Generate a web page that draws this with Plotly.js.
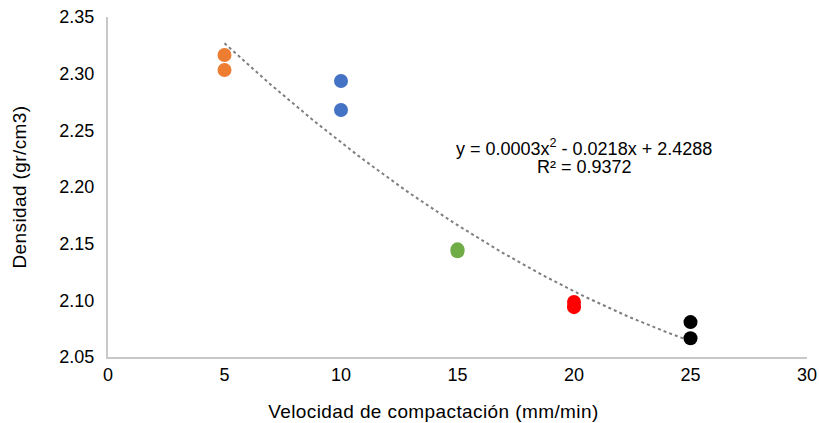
<!DOCTYPE html>
<html>
<head>
<meta charset="utf-8">
<script src="https://cdn.plot.ly/plotly-3.0.1.min.js"></script>
<style>html,body{margin:0;padding:0;background:#fff;}#chart{width:819px;height:423px;}
.g-ytitle text,.annotation.xtitle-ann text{letter-spacing:0.4px;}</style>
</head>
<body>
<div id="chart"></div>
<script>
// Data
var xOrange = [5, 5];
var yOrange = [2.3165, 2.3032];
var xBlue = [10, 10];
var yBlue = [2.2935, 2.2679];
var xGreen = [15, 15];
var yGreen = [2.1450, 2.1432];
var xRed = [20, 20];
var yRed = [2.0985, 2.0940];
var xBlack = [25, 25];
var yBlack = [2.0808, 2.0665];
var equationLine = "y = 0.0003x<sup>2</sup> - 0.0218x + 2.4288";
var r2Line = "R² = 0.9372";
var xTitle = "Velocidad de compactación (mm/min)";
var yTitle = "Densidad (gr/cm3)";

// Quadratic least-squares trendline from the data
var allX = [].concat(xOrange, xBlue, xGreen, xRed, xBlack);
var allY = [].concat(yOrange, yBlue, yGreen, yRed, yBlack);
function fitQuad(xs, ys) {
  var S = [0,0,0,0,0], T = [0,0,0];
  for (var i = 0; i < xs.length; i++) {
    var p = 1;
    for (var k = 0; k < 5; k++) { S[k] += p; if (k < 3) T[k] += p * ys[i]; p *= xs[i]; }
  }
  var A = [[S[0],S[1],S[2],T[0]],[S[1],S[2],S[3],T[1]],[S[2],S[3],S[4],T[2]]];
  for (var c = 0; c < 3; c++) {
    for (var r = c + 1; r < 3; r++) {
      var f = A[r][c] / A[c][c];
      for (var j = c; j < 4; j++) A[r][j] -= f * A[c][j];
    }
  }
  var sol = [0,0,0];
  for (var r2 = 2; r2 >= 0; r2--) {
    var s = A[r2][3];
    for (var j2 = r2 + 1; j2 < 3; j2++) s -= A[r2][j2] * sol[j2];
    sol[r2] = s / A[r2][r2];
  }
  return sol;
}
var coef = fitQuad(allX, allY);
var trendX = [], trendY = [];
for (var t = 5; t <= 25.0001; t += 0.25) {
  trendX.push(t);
  trendY.push(coef[0] + coef[1] * t + coef[2] * t * t);
}

function pts(x, y, color) {
  return {x: x, y: y, type: 'scatter', mode: 'markers',
    marker: {color: color, size: 14, line: {width: 0}}, hoverinfo: 'x+y', showlegend: false};
}

var data = [
  {x: trendX, y: trendY, type: 'scatter', mode: 'lines',
   line: {color: '#7f7f7f', width: 2, dash: 'dot'}, showlegend: false, hoverinfo: 'skip'},
  pts(xOrange, yOrange, '#ED7D31'),
  pts(xBlue, yBlue, '#4472C4'),
  pts(xGreen, yGreen, '#70AD47'),
  pts(xRed, yRed, '#FF0000'),
  pts(xBlack, yBlack, '#000000')
];

var fam = 'Liberation Sans, Arial, sans-serif';
var tickFont = {family: fam, size: 18, color: '#000'};
var titleFont = {family: fam, size: 19, color: '#000'};
var layout = {
  width: 819, height: 423,
  margin: {l: 108, r: 12, t: 17, b: 66},
  paper_bgcolor: '#fff', plot_bgcolor: '#fff',
  font: tickFont,
  showlegend: false,
  xaxis: {
    range: [0, 30], dtick: 5, tick0: 0, showgrid: false, zeroline: false,
    showline: true, linecolor: '#c8c8c8', linewidth: 2, ticks: '',
    tickfont: tickFont
  },
  yaxis: {
    range: [2.05, 2.35], dtick: 0.05, tick0: 2.05, tickformat: '.2f',
    showgrid: false, zeroline: false,
    showline: true, linecolor: '#c8c8c8', linewidth: 2,
    ticks: 'outside', ticklen: 8, tickcolor: 'rgba(0,0,0,0)',
    tickfont: tickFont,
    title: {text: yTitle, font: titleFont, standoff: 28}
  },
  annotations: [
    {x: 20.43, y: 2.2345, xref: 'x', yref: 'y', text: equationLine, showarrow: false,
     xanchor: 'center', yanchor: 'middle', font: {family: fam, size: 18, color: '#000'}},
    {x: 20.43, y: 2.2180, xref: 'x', yref: 'y', text: r2Line, showarrow: false,
     xanchor: 'center', yanchor: 'middle', font: {family: fam, size: 18, color: '#000'}},
    {x: 0.466, y: -0.159, xref: 'paper', yref: 'paper', text: xTitle, showarrow: false,
     xanchor: 'center', yanchor: 'middle', font: titleFont}
  ]
};

Plotly.newPlot('chart', data, layout, {displayModeBar: false, staticPlot: true}).then(function(){
  var anns = document.querySelectorAll('.annotation');
  if (anns.length) anns[anns.length-1].classList.add('xtitle-ann');
});
</script>
</body>
</html>
